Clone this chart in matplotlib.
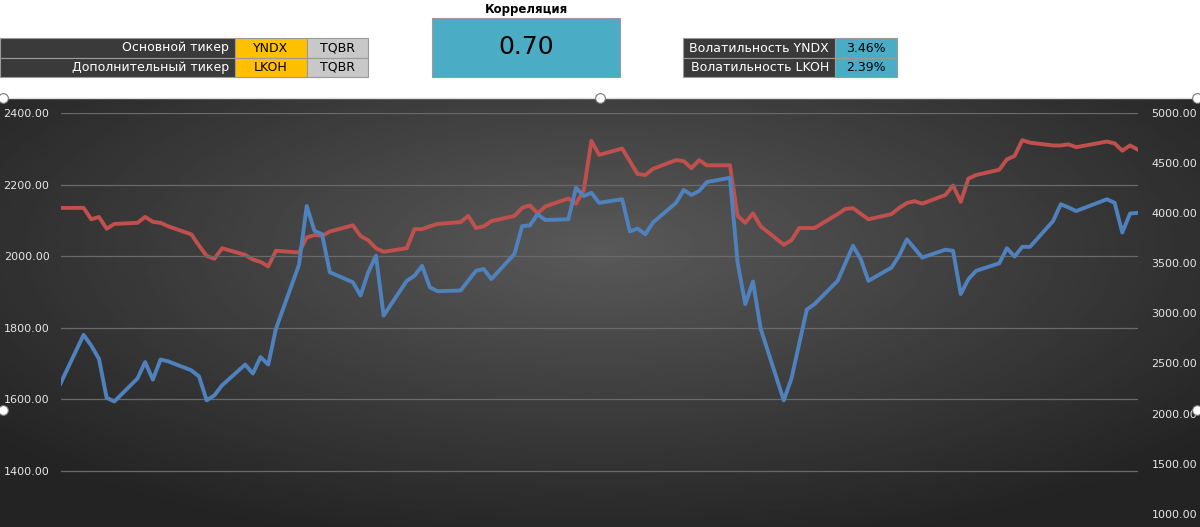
import numpy as np
import matplotlib.pyplot as plt
from matplotlib.patches import Rectangle

# YNDX (left axis)
yndx_days = [0, 3, 4, 5, 6, 7, 10, 11, 12, 13, 14, 17, 18, 19, 20, 21, 24, 25, 26, 27, 28,
             31, 32, 33, 34, 35, 38, 39, 40, 41, 42, 45, 46, 47, 48, 49, 52, 54, 55, 56, 59,
             60, 61, 62, 63, 66, 67, 68, 69,
             70, 73, 74, 75, 76, 77, 80, 81, 82, 83, 84, 87, 88, 89, 90, 91, 94, 95, 97, 98,
             101, 103, 104, 105, 108, 109, 110, 112, 115, 116, 117, 118, 119, 122, 123, 124,
             125, 126, 129, 130, 131, 132, 136, 137, 138, 139, 140]
yndx = [1644, 1780, 1750, 1713, 1604, 1594, 1658, 1704, 1655, 1711, 1706, 1681, 1664, 1597,
        1611, 1639, 1697, 1672, 1718, 1697, 1797, 1976, 2140, 2071, 2061, 1955, 1927, 1890,
        1955, 2001, 1834, 1931, 1945, 1973, 1913, 1902, 1904, 1959, 1964, 1936, 2006, 2084,
        2086, 2117, 2101, 2103, 2191, 2168, 2177,
        2149, 2159, 2069, 2077, 2061, 2094, 2149, 2185, 2171, 2182, 2207, 2219, 1982, 1866,
        1929, 1797, 1597, 1658, 1851, 1866, 1931, 2029, 1992, 1931, 1968, 2001, 2047, 1996,
        2018, 2015, 1894, 1936, 1959, 1980, 2022, 1999, 2026, 2026, 2098, 2145, 2136, 2126,
        2159, 2149, 2066, 2119, 2121]

# LKOH (right axis)
lkoh_days = [0, 3, 4, 5, 6, 7, 10, 11, 12, 13, 14, 17, 18, 19, 20, 21, 24, 25, 26, 27, 28,
             31, 32, 33, 34, 35, 38, 39, 40, 41, 42, 45, 46, 47, 48, 49, 52, 53, 54, 55, 56,
             59, 60, 61, 62, 63, 66, 67, 68, 69,
             70, 73, 75, 76, 77, 80, 81, 82, 83, 84, 87, 88, 89, 90, 91, 94, 95, 96, 98,
             101, 102, 103, 105, 108, 109, 110, 111, 112, 115, 116, 117, 118, 119, 122, 123,
             124, 125, 126, 129, 130, 131, 132, 136, 137, 138, 139, 140]
lkoh = [4053, 4053, 3939, 3963, 3845, 3893, 3904, 3963, 3914, 3904, 3869, 3789, 3678, 3573,
        3545, 3650, 3584, 3538, 3514, 3469, 3625, 3608, 3758, 3782, 3775, 3817, 3879, 3772,
        3730, 3650, 3615, 3650, 3841, 3841, 3869, 3893, 3911, 3973, 3852, 3869, 3921, 3973,
        4053, 4078, 3998, 4067, 4147, 4095, 4227, 4722,
        4582, 4645, 4391, 4381, 4443, 4530, 4520, 4450, 4530, 4478, 4478, 3973, 3904, 3998,
        3869, 3685, 3730, 3852, 3852, 3991, 4043, 4050, 3939, 3991, 4053, 4102, 4120, 4095,
        4182, 4276, 4113, 4346, 4381, 4433, 4537, 4572, 4729, 4704, 4676, 4676, 4687, 4659,
        4715, 4697, 4624, 4676, 4635]

left_ticks = [1400, 1600, 1800, 2000, 2200, 2400]
right_ticks = [1000, 1500, 2000, 2500, 3000, 3500, 4000, 4500, 5000]

fig = plt.figure(figsize=(12, 5.27), dpi=100)
W, H = 1200, 527

def fx(px):
    return px / W

def fy(py):
    return 1 - py / H

# chart area gradient background (lighter toward the middle)
bg = fig.add_axes([0, 0, 1, fy(98)])
yy, xx = np.mgrid[-1:1:200j, -1:1:400j]
r = np.sqrt(xx ** 2 + ((yy + 0.3) / 1.1) ** 2)
shade = 0.35 - 0.21 * np.clip(r, 0, 1.3) / 1.3
bg.imshow(shade, cmap="gray", vmin=0, vmax=1, aspect="auto", extent=[0, 1, 0, 1])
bg.set_axis_off()

ax = fig.add_axes([fx(60.5), fy(614), fx(1137.7 - 60.5), (614 - 113) / H])
ax.patch.set_alpha(0)
ax.set_xlim(0, 140)
ax.set_ylim(1000, 2400)
ax.set_yticks(left_ticks)
ax.set_yticklabels([f"{v:.2f}" for v in left_ticks])
ax.grid(axis="y", color="#6a6a6a", lw=0.9)
ax.set_xticks([])
ax2 = ax.twinx()
ax2.set_ylim(0, 5000)
ax2.set_yticks(right_ticks)
ax2.set_yticklabels([f"{v:.2f}" for v in right_ticks])
for a in (ax, ax2):
    for s in a.spines.values():
        s.set_visible(False)
    a.tick_params(length=0, labelsize=8, labelcolor="#e6e6e6")
ax.tick_params(pad=8)
ax2.tick_params(pad=10)
ax2.plot(lkoh_days, lkoh, color="#C0504D", lw=2.8, solid_joinstyle="round")
ax.plot(yndx_days, yndx, color="#4F81BD", lw=2.8, solid_joinstyle="round")
ax.set_zorder(ax2.get_zorder() + 1)
ax2.patch.set_alpha(0)

# selection border and handles
fig.add_artist(plt.Line2D([0, 1], [fy(98), fy(98)], color="#dddddd", lw=1))
hx = [fx(3), fx(600), fx(1197), fx(3), fx(1197)]
hy = [fy(98), fy(98), fy(98), fy(410), fy(410)]
fig.add_artist(plt.Line2D(hx, hy, ls="none", marker="o", ms=7, mfc="white",
                          mec="#777777", mew=0.8, zorder=10))

# header tables
def cell(x0, y0, x1, y1, fc, text, tc="black", ha="center", size=9):
    fig.add_artist(Rectangle((fx(x0), fy(y1)), fx(x1 - x0), (y1 - y0) / H,
                             transform=fig.transFigure, facecolor=fc,
                             edgecolor="#9a9a9a", lw=0.8))
    tx = fx(x1 - 6) if ha == "right" else fx((x0 + x1) / 2)
    fig.text(tx, fy((y0 + y1) / 2), text, color=tc, ha=ha, va="center", fontsize=size)

cell(0, 38, 235, 58, "#3a3a3a", "Основной тикер", "white", "right")
cell(235, 38, 307, 58, "#FFC000", "YNDX")
cell(307, 38, 368, 58, "#C8C8C8", "TQBR")
cell(0, 58, 235, 77, "#3a3a3a", "Дополнительный тикер", "white", "right")
cell(235, 58, 307, 77, "#FFC000", "LKOH")
cell(307, 58, 368, 77, "#C8C8C8", "TQBR")

fig.text(fx(527), fy(10), "Корреляция", ha="center", va="center", fontsize=8.5,
         fontweight="bold")
cell(432, 18, 620, 77, "#4BACC6", "0.70", size=18)

cell(683, 38, 835, 58, "#3a3a3a", "Волатильность YNDX", "white", "right")
cell(835, 38, 897, 58, "#4BACC6", "3.46%")
cell(683, 58, 835, 77, "#3a3a3a", "Волатильность LKOH", "white", "right")
cell(835, 58, 897, 77, "#4BACC6", "2.39%")

fig.savefig("out.png", dpi=100)
